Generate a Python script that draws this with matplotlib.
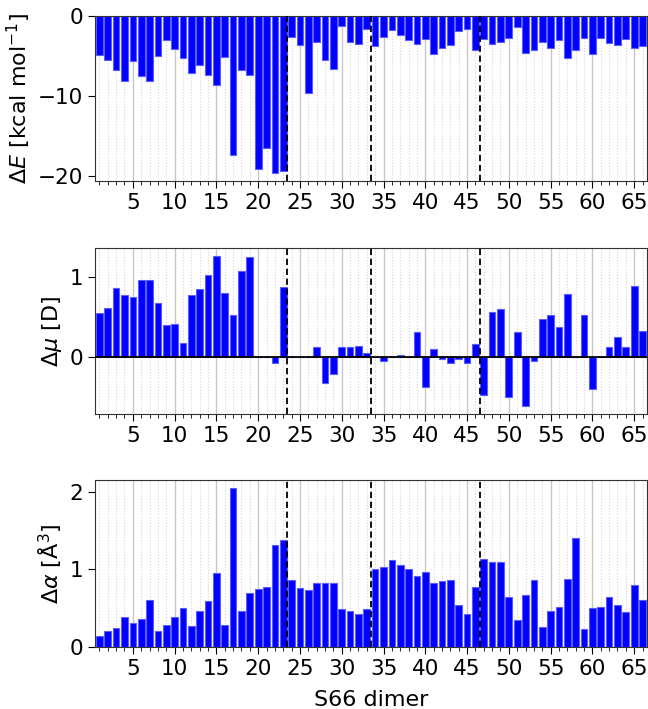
import matplotlib.pyplot as plt
import numpy as np
from matplotlib.ticker import MultipleLocator

plt.rcParams['font.size'] = 16
plt.rcParams['xtick.labelsize'] = 15.5
plt.rcParams['ytick.labelsize'] = 15.5

# S66 dimers 1..66
dimer = np.arange(1, 67)

dE = [-4.9, -5.5, -6.8, -8.1, -5.7, -7.5, -8.2, -5.0, -3.0, -4.1,
      -5.3, -7.2, -6.2, -7.4, -8.7, -5.1, -17.4, -6.8, -7.4, -19.2,
      -16.5, -19.7, -19.4, -2.6, -3.6, -9.6, -3.2, -5.5, -6.6, -1.2,
      -3.3, -3.5, -1.6, -3.8, -2.6, -1.8, -2.4, -3.0, -3.5, -2.9,
      -4.8, -4.0, -3.6, -1.9, -1.6, -4.2, -2.9, -3.5, -3.3, -2.8,
      -1.4, -4.6, -4.3, -3.2, -4.0, -3.0, -5.3, -4.2, -2.8, -4.8,
      -2.8, -3.4, -3.6, -2.9, -4.0, -3.8]

dmu = [0.55, 0.61, 0.86, 0.77, 0.75, 0.96, 0.96, 0.68, 0.40, 0.41,
       0.17, 0.77, 0.85, 1.03, 1.27, 0.80, 0.53, 1.08, 1.25, 0.0,
       0.0, -0.08, 0.87, 0.0, 0.0, 0.0, 0.12, -0.33, -0.21, 0.12,
       0.12, 0.14, 0.05, 0.0, -0.045, 0.0, 0.03, 0.0, 0.31, -0.38,
       0.096, -0.02, -0.075, -0.02, -0.075, 0.16, -0.475, 0.56, 0.60, -0.50,
       0.31, -0.62, -0.046, 0.475, 0.53, 0.38, 0.79, 0.0, 0.53, -0.40,
       0.0, 0.13, 0.25, 0.13, 0.89, 0.32]

dalpha = [0.14, 0.21, 0.25, 0.385, 0.31, 0.355, 0.60, 0.21, 0.28, 0.39,
          0.50, 0.27, 0.47, 0.59, 0.96, 0.29, 2.05, 0.47, 0.69, 0.75,
          0.78, 1.32, 1.38, 0.87, 0.76, 0.74, 0.82, 0.83, 0.82, 0.49,
          0.46, 0.42, 0.485, 1.01, 1.035, 1.12, 1.06, 1.00, 0.92, 0.97,
          0.82, 0.85, 0.86, 0.54, 0.42, 0.775, 1.13, 1.09, 1.10, 0.65,
          0.35, 0.67, 0.86, 0.255, 0.47, 0.515, 0.88, 1.41, 0.23, 0.50,
          0.52, 0.65, 0.545, 0.45, 0.80, 0.61]

# group boundaries: H-bonded / dispersion / mixed / other
separators = [23.5, 33.5, 46.5]

data = [dE, dmu, dalpha]
ylabels = [r'$\Delta E$ [kcal mol$^{-1}$]', r'$\Delta \mu$ [D]', r'$\Delta \alpha$ [Å$^3$]']
boxes = [[0.147, 0.7447, 0.851, 0.2327],
         [0.147, 0.4161, 0.851, 0.2341],
         [0.147, 0.0874, 0.851, 0.2356]]

fig = plt.figure(figsize=(6.48, 7.09), dpi=100)

for i in range(3):
    ax = fig.add_axes(boxes[i])
    ax.bar(dimer, data[i], width=0.8, color='#0000ff', edgecolor='#5c5cff',
           linewidth=0.8, zorder=2)
    for s in separators:
        ax.axvline(s, color='black', linestyle=(0, (3.5, 2)), linewidth=1.3, zorder=4)
    if i == 1:
        ax.axhline(0, color='black', linewidth=1.3, zorder=3)

    ax.set_xlim(0.5, 66.5)
    ax.xaxis.set_major_locator(MultipleLocator(5))
    ax.xaxis.set_minor_locator(MultipleLocator(1))
    ax.yaxis.set_major_locator(MultipleLocator(10 if i == 0 else 1))
    ax.grid(which='major', axis='x', color='#c8c8c8', linewidth=1.0, zorder=0)
    ax.grid(which='minor', axis='x', color='#d4d4d4', linestyle=':', linewidth=0.8, zorder=3)
    ax.set_axisbelow(True)
    ax.tick_params(which='major', length=5)
    ax.tick_params(which='minor', length=3)
    ax.set_ylabel(ylabels[i])
    for sp in ax.spines.values():
        sp.set_color('#333333')

ax.set_xlabel('S66 dimer', labelpad=8)

plt.savefig('out.png', dpi=100)
